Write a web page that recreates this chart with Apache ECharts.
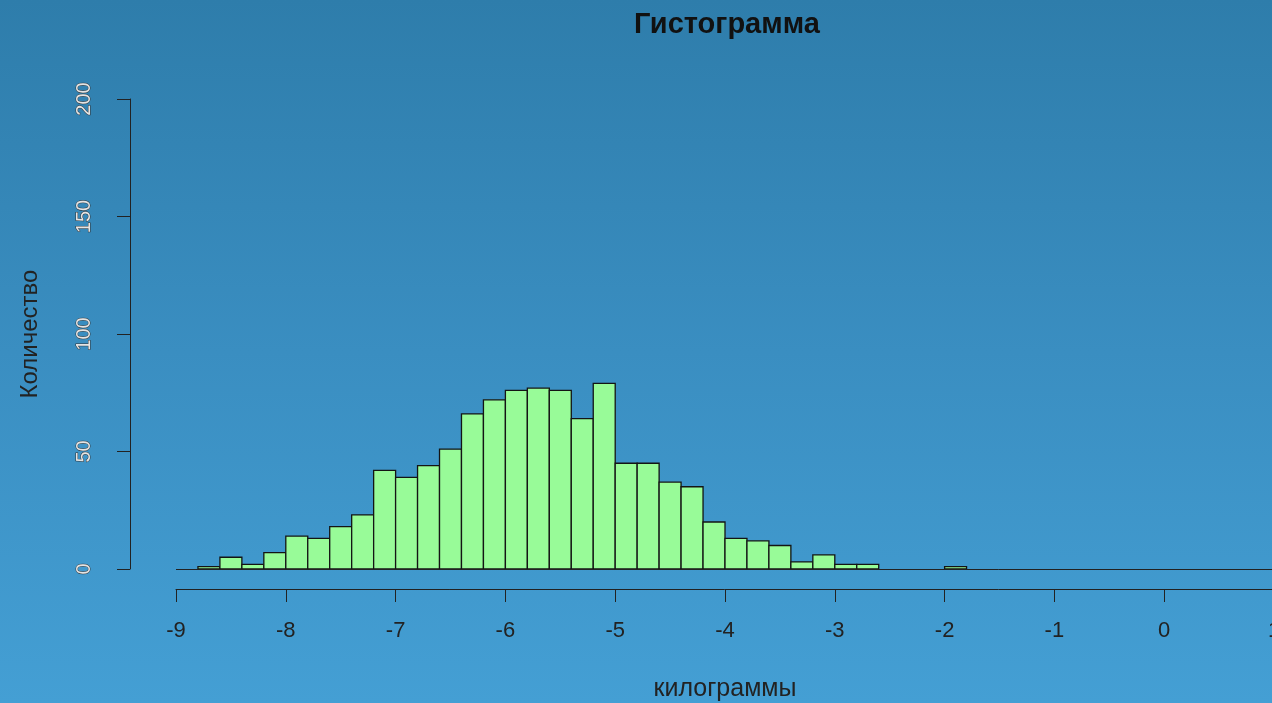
<!DOCTYPE html>
<html>
<head>
<meta charset="utf-8">
<script src="https://cdn.jsdelivr.net/npm/echarts@6/dist/echarts.min.js"></script>
<style>
html,body{margin:0;padding:0;}
#chart{width:1272px;height:703px;background:linear-gradient(to bottom,#2e7dab 0%,#3a8ec1 50%,#449fd4 100%);}
</style>
</head>
<body>
<div id="chart"></div>
<script>
// Histogram bin edges (kg) and counts per bin
const binEdges = [-8.8,-8.6,-8.4,-8.2,-8.0,-7.8,-7.6,-7.4,-7.2,-7.0,-6.8,-6.6,-6.4,-6.2,-6.0,-5.8,-5.6,-5.4,-5.2,-5.0,-4.8,-4.6,-4.4,-4.2,-4.0,-3.8,-3.6,-3.4,-3.2,-3.0,-2.8,-2.6,-2.4,-2.2,-2.0,-1.8];
const binEdgesRight = [-8.6,-8.4,-8.2,-8.0,-7.8,-7.6,-7.4,-7.2,-7.0,-6.8,-6.6,-6.4,-6.2,-6.0,-5.8,-5.6,-5.4,-5.2,-5.0,-4.8,-4.6,-4.4,-4.2,-4.0,-3.8,-3.6,-3.4,-3.2,-3.0,-2.8,-2.6,-2.4,-2.2,-2.0,-1.8,-1.6];
const counts = [1,5,2,7,14,13,18,23,42,39,44,51,66,72,76,77,76,64,79,45,45,37,35,20,13,12,10,3,6,2,2,0,0,0,1,0];
const xTicks = [-9,-8,-7,-6,-5,-4,-3,-2,-1,0,1];
const yTicks = [0,50,100,150,200];

const data = counts.map((c,i)=>[binEdges[i], binEdgesRight[i], c]);

const chart = echarts.init(document.getElementById('chart'), null, {renderer:'canvas'});
chart.setOption({
  backgroundColor: 'transparent',
  animation: false,
  title: {
    text: 'Гистограмма',
    left: 722, top: 5, textAlign: 'center',
    textStyle: {fontFamily: 'Liberation Sans', fontSize: 29, fontWeight: 'bold', color: '#111'}
  },
  grid: {left: 176, top: 99, width: 1098, height: 470, containLabel: false, outerBoundsMode: 'none'},
  xAxis: {
    type: 'value', min: xTicks[0], max: xTicks[xTicks.length-1], interval: 1,
    position: 'bottom', offset: 20,
    name: 'килограммы', nameLocation: 'middle', nameGap: 88,
    nameTextStyle: {fontFamily: 'Liberation Sans', fontSize: 25, color: '#222'},
    axisLine: {show: true, onZero: false, lineStyle: {color: '#222', width: 1}},
    axisTick: {show: true, length: 13, lineStyle: {color: '#222', width: 1}},
    axisLabel: {margin: 31, fontFamily: 'Liberation Sans', fontSize: 22, color: '#222', showMinLabel: true, showMaxLabel: true},
    splitLine: {show: false}
  },
  yAxis: {
    type: 'value', min: yTicks[0], max: yTicks[yTicks.length-1], interval: 50,
    position: 'left', offset: 46,
    name: 'Количество', nameLocation: 'middle', nameGap: 88,
    nameTextStyle: {fontFamily: 'Liberation Sans', fontSize: 24, color: '#222'},
    axisLine: {show: true, onZero: false, lineStyle: {color: '#222', width: 1}},
    axisTick: {show: true, length: 13, lineStyle: {color: '#222', width: 1}},
    axisLabel: {rotate: 90, margin: 36, fontFamily: 'Liberation Sans', fontSize: 20, color: '#e4e4e4', textBorderColor: '#333', textBorderWidth: 1},
    splitLine: {show: false}
  },
  series: [{
    type: 'custom',
    data: data,
    encode: {x: [0,1], y: 2},
    renderItem: function(params, api){
      const x0 = api.value(0), x1 = api.value(1), v = api.value(2);
      if (!v) return null;
      const pTop = api.coord([x0, v]);
      const pBot = api.coord([x1, 0]);
      return {
        type: 'rect',
        shape: {x: pTop[0], y: pTop[1], width: pBot[0]-pTop[0], height: pBot[1]-pTop[1]},
        style: {fill: '#98fb98', stroke: '#141414', lineWidth: 1.3}
      };
    },
    markLine: {
      silent: true, symbol: 'none', label: {show: false},
      lineStyle: {color: '#222', width: 1, type: 'solid'},
      data: [{yAxis: 0}]
    }
  }]
});
</script>
</body>
</html>
